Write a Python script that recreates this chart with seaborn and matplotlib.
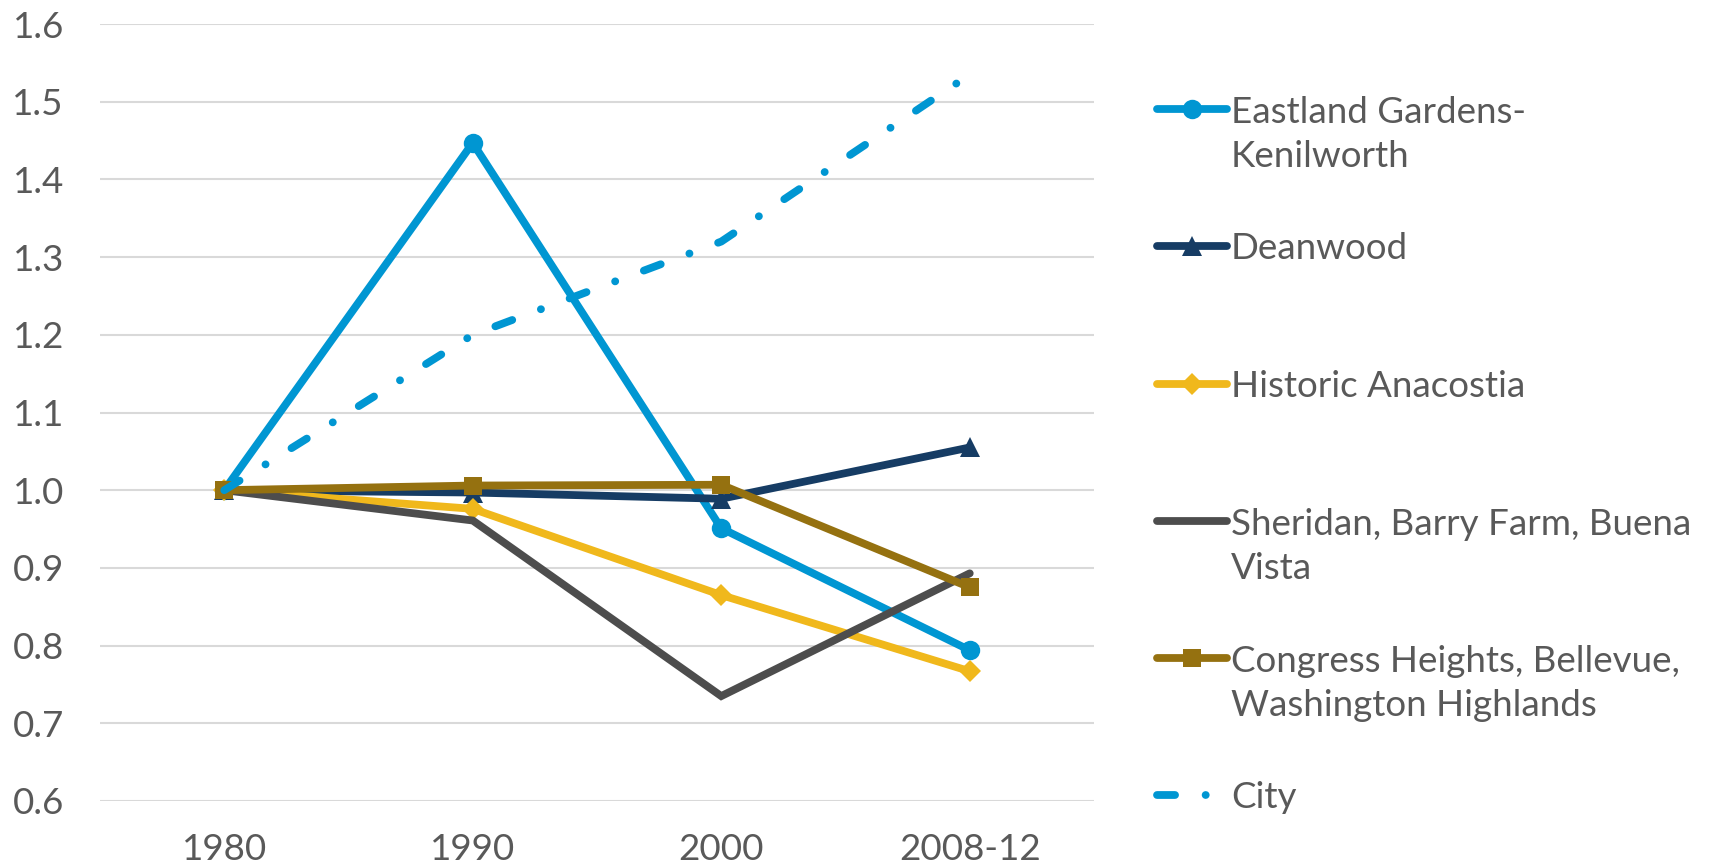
import matplotlib
matplotlib.use("Agg")
import matplotlib.pyplot as plt
from matplotlib.ticker import FormatStrFormatter
import seaborn as sns

# Valeurs (indice 1980 = 1.0)
years = ["1980", "1990", "2000", "2008-12"]
eastland = [1.0, 1.447, 0.951, 0.794]
deanwood = [1.0, 0.997, 0.989, 1.055]
anacostia = [1.0, 0.976, 0.865, 0.767]
sheridan = [1.0, 0.961, 0.735, 0.893]
congress = [1.0, 1.006, 1.007, 0.875]
city = [1.0, 1.200, 1.320, 1.535]
yticks = [0.6, 0.7, 0.8, 0.9, 1.0, 1.1, 1.2, 1.3, 1.4, 1.5, 1.6]

labels = [
    "Eastland Gardens-\nKenilworth",
    "Deanwood",
    "Historic Anacostia",
    "Sheridan, Barry Farm, Buena\nVista",
    "Congress Heights, Bellevue,\nWashington Highlands",
    "City",
]
series = [eastland, deanwood, anacostia, sheridan, congress, city]
colors = ["#0096D2", "#163C64", "#F0B81C", "#4D4D4D", "#957110", "#0096D2"]
markers = ["o", "^", "D", None, "s", None]
msizes = [14, 14, 11, 0, 13, 0]
city_dash = (0, (13, 22, 0.1, 22))

sns.set_style("white")
plt.rcParams["font.family"] = ["Lato", "DejaVu Sans"]
plt.rcParams["lines.scale_dashes"] = False

text_color = "#595959"
fs = 26.5
lw = 5.6

fig = plt.figure(figsize=(17.11, 8.66), dpi=100)
ax = fig.add_axes([100 / 1711, 1 - 801 / 866, 994 / 1711, 777 / 866])

for vals, col, mk, ms, lab in zip(series, colors, markers, msizes, labels):
    ls = city_dash if lab == "City" else "-"
    sns.lineplot(x=years, y=vals, ax=ax, color=col, linewidth=lw, marker=mk,
                 markersize=ms, markeredgewidth=0, linestyle=ls, sort=False,
                 legend=False, dash_capstyle="round", solid_joinstyle="miter")

ax.set_xlim(-0.5, 3.5)
ax.set_ylim(0.6, 1.6)
ax.set_yticks(yticks)
ax.yaxis.set_major_formatter(FormatStrFormatter("%.1f"))
ax.set_xlabel("")
ax.set_ylabel("")
ax.yaxis.grid(True, color="#D9D9D9", linewidth=1.5)
ax.xaxis.grid(False)
ax.set_axisbelow(True)
for s in ax.spines.values():
    s.set_visible(False)
ax.tick_params(axis="y", length=0, pad=26, labelsize=fs, labelcolor=text_color)
ax.tick_params(axis="x", length=0, pad=23, labelsize=fs, labelcolor=text_color)

# Légende dessinée à la main (poignée alignée sur la première ligne)
lax = fig.add_axes([0, 0, 1, 1])
lax.set_xlim(0, 1711)
lax.set_ylim(866, 0)
lax.axis("off")
leg_y = [109, 246, 384, 521, 658, 795]
line_gap = 45
for y, col, mk, ms, lab in zip(leg_y, colors, markers, msizes, labels):
    if lab == "City":
        lax.plot([1157, 1232], [y, y], color=col, linewidth=lw,
                 linestyle=city_dash, dash_capstyle="round")
    else:
        lax.plot([1157, 1227], [y, y], color=col, linewidth=lw,
                 solid_capstyle="round")
        if mk:
            lax.plot([1192], [y], color=col, marker=mk, markersize=ms,
                     markeredgewidth=0)
    nlines = lab.count("\n")
    lax.text(1231, y + 13 + nlines * line_gap, lab, fontsize=fs,
             color=text_color, va="baseline", ha="left", linespacing=1.42)

fig.savefig("out.png", dpi=100)
